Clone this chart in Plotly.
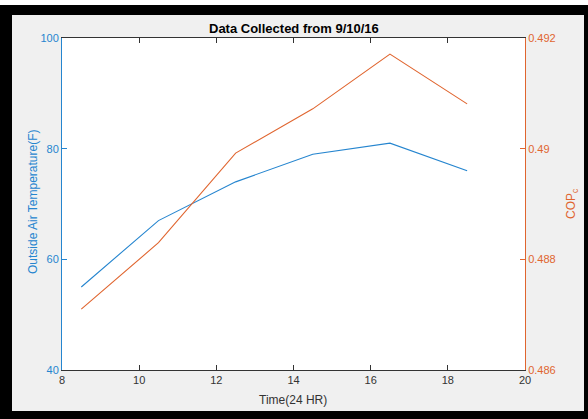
import plotly.graph_objects as go

time_hr = [8.5, 10.5, 12.5, 14.5, 16.5, 18.5]
outside_temp_f = [55, 67, 74, 79, 81, 76]
cop_c = [0.4871, 0.4883, 0.48992, 0.49072, 0.49171, 0.49081]

x_ticks = [8, 10, 12, 14, 16, 18, 20]
y_left_ticks = [40, 60, 80, 100]
y_right_ticks = [0.486, 0.488, 0.490, 0.492]
y_right_labels = ["0.486", "0.488", "0.49", "0.492"]

BLUE = "#2585cf"
ORANGE = "#e0652f"
DARK = "#333333"
FONT = "Liberation Sans, Arial, sans-serif"

W, H = 588, 419
L, R, T, B = 62, 525, 38, 370  # plot area pixels


def px(x):
    return (x - L) / (R - L)


def py(y):
    return (B - y) / (B - T)


fig = go.Figure()
fig.add_trace(go.Scatter(x=time_hr, y=outside_temp_f, mode="lines",
                         line=dict(color=BLUE, width=1.1), yaxis="y", showlegend=False))
fig.add_trace(go.Scatter(x=time_hr, y=cop_c, mode="lines",
                         line=dict(color=ORANGE, width=1.1), yaxis="y2", showlegend=False))

shapes = [
    dict(type="rect", xref="paper", yref="paper", x0=px(0), x1=px(588), y0=py(419), y1=py(5),
         fillcolor="black", line=dict(width=0), layer="below"),
    dict(type="rect", xref="paper", yref="paper", x0=px(12), x1=px(584), y0=py(411), y1=py(15),
         fillcolor="#f0f0f0", line=dict(width=0), layer="below"),
    dict(type="rect", xref="paper", yref="paper", x0=0, x1=1, y0=0, y1=1,
         fillcolor="white", line=dict(width=0), layer="below"),
]

annotations = [
    dict(text="Outside Air Temperature(F)", x=px(33), y=py(202), xref="paper", yref="paper",
         showarrow=False, textangle=-90, font=dict(family=FONT, size=12, color=BLUE),
         xanchor="center", yanchor="middle"),
    dict(text="COP<sub>c</sub>", x=px(572), y=py(204), xref="paper", yref="paper",
         showarrow=False, textangle=-90, font=dict(family=FONT, size=12, color=ORANGE),
         xanchor="center", yanchor="middle"),
    dict(text="Time(24 HR)", x=px(293), y=py(400), xref="paper", yref="paper",
         showarrow=False, font=dict(family=FONT, size=12, color=DARK),
         xanchor="center", yanchor="middle"),
    dict(text="<b>Data Collected from 9/10/16</b>", x=px(294), y=py(28), xref="paper", yref="paper",
         showarrow=False, font=dict(family=FONT, size=13, color="black"),
         xanchor="center", yanchor="middle"),
]

fig.update_layout(
    width=W, height=H,
    margin=dict(l=L, r=W - R, t=T, b=H - B, pad=0),
    paper_bgcolor="white",
    plot_bgcolor="white",
    font=dict(family=FONT, size=11, color=DARK),
    shapes=shapes,
    annotations=annotations,
    xaxis=dict(range=[8, 20], tickvals=x_ticks, ticks="inside", ticklen=5, tickcolor=DARK,
               showline=True, linecolor=DARK, linewidth=1, mirror="ticks", showgrid=False,
               zeroline=False, tickfont=dict(family=FONT, size=11, color=DARK)),
    yaxis=dict(range=[40, 100], tickvals=y_left_ticks, ticks="inside", ticklen=5, tickcolor=BLUE,
               showline=True, linecolor=BLUE, linewidth=1, showgrid=False, zeroline=False,
               tickfont=dict(family=FONT, size=11, color=BLUE)),
    yaxis2=dict(range=[0.486, 0.492], tickvals=y_right_ticks, ticktext=y_right_labels,
                ticks="inside", ticklen=5, tickcolor=ORANGE, overlaying="y", side="right",
                showline=True, linecolor=ORANGE, linewidth=1, showgrid=False, zeroline=False,
                tickfont=dict(family=FONT, size=11, color=ORANGE)),
)

fig.write_html("out.html", config={"displayModeBar": False},
               post_script="document.body.style.margin='0';document.body.style.padding='0';")
